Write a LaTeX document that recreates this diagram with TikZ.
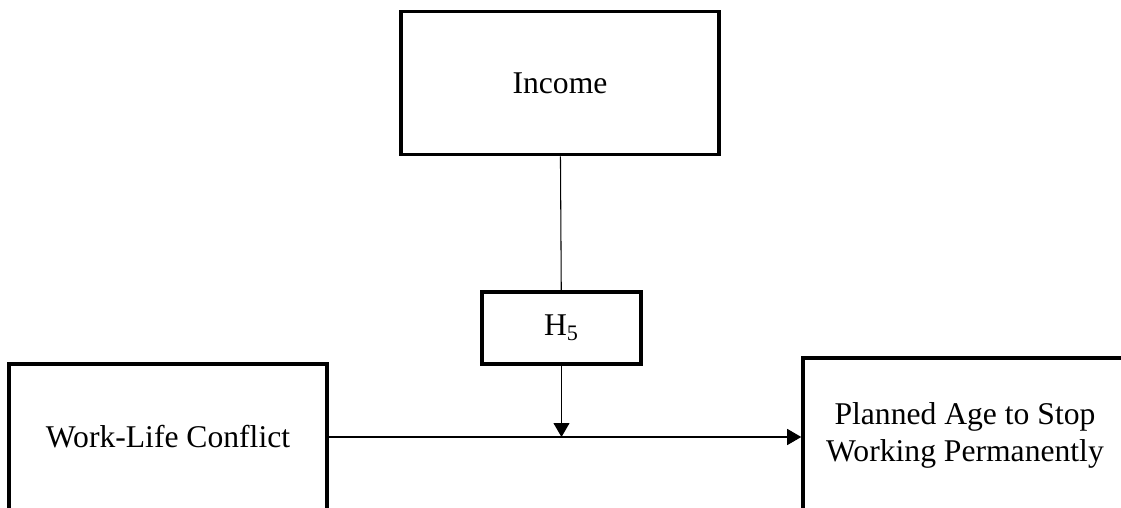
\documentclass[tikz,border=0pt]{standalone}
\usepackage{fontspec}
\setmainfont{Liberation Serif}
\usetikzlibrary{arrows.meta}
\begin{document}
\begin{tikzpicture}[
        >={Triangle[length=0.28cm,width=0.32cm]},
        var/.style={draw, line width=2pt, align=center, inner sep=0pt,
            font=\fontsize{18}{21}\selectfont},
        every path/.style={line width=0.6pt}
    ]
        \useasboundingbox (0,0) rectangle (22.42,-10.16);
        \node[var, minimum width=6.36cm, minimum height=2.86cm] (inc) at (11.2,-1.66)
            {Income};
        \node[var, minimum width=3.18cm, minimum height=1.44cm] (hyp) at (11.23,-6.56)
            {H\textsubscript{5}};
        \node[var, minimum width=6.36cm, minimum height=2.92cm] (wlc) at (3.36,-8.74)
            {Work-Life Conflict};
        \node[var, minimum width=6.48cm, minimum height=3.08cm] (age) at (19.3,-8.7)
            {Planned Age to Stop\\Working Permanently};
        \draw (inc) -- (hyp);
        \draw[->] (wlc.east) -- (wlc.east -| age.west);
        \draw[->] (hyp) -- (hyp.south |- wlc.east);
    \end{tikzpicture}
\end{document}
